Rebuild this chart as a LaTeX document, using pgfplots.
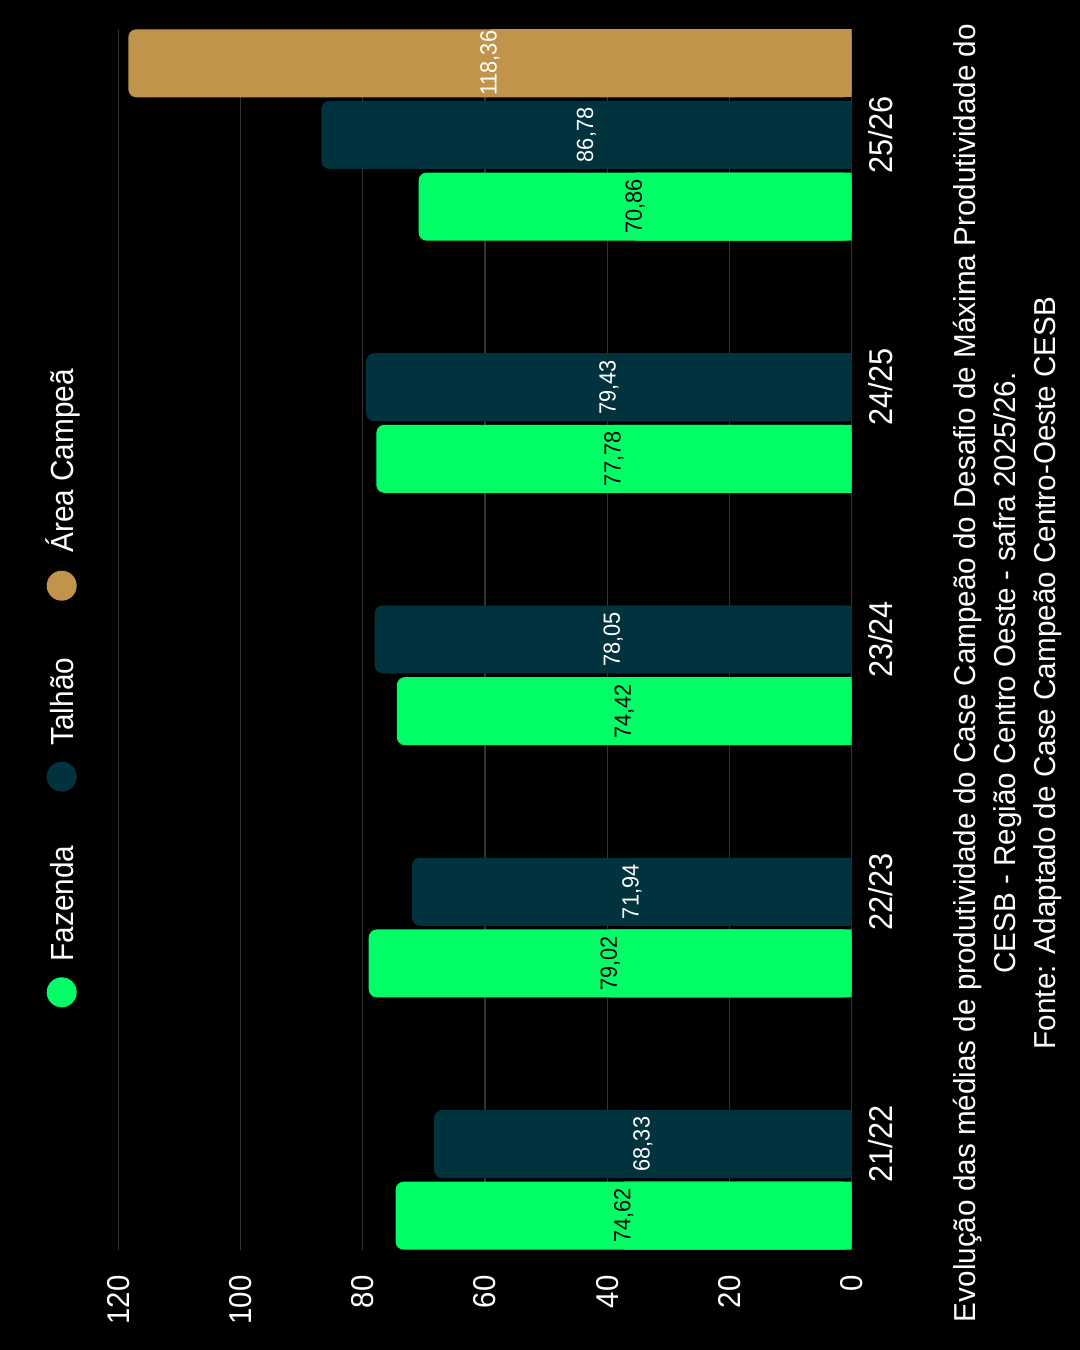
\documentclass[border=0pt]{standalone}
\usepackage{fontspec}
\setmainfont{Liberation Sans}
\newfontfamily\narfont{Liberation Sans}[FakeStretch=0.93]
\newfontfamily\capfont{Liberation Sans}[FakeStretch=0.978]
\usepackage{pgfplots}
\usepackage{pgfplotstable}
\pgfplotsset{compat=1.18}
\definecolor{fazg}{HTML}{00FF66}
\definecolor{talt}{HTML}{00333D}
\definecolor{areag}{HTML}{C0944A}
\definecolor{gridc}{HTML}{333333}
\pgfplotstableread{
y v lab
0 74.62 74,62
1 79.02 79,02
2 74.42 74,42
3 77.78 77,78
4 70.86 70,86
}\fazenda
\pgfplotstableread{
y v lab
0 68.33 68,33
1 71.94 71,94
2 78.05 78,05
3 79.43 79,43
4 86.78 86,78
}\talhao
\pgfplotstableread{
y v lab
4 118.36 118,36
}\area
\begin{document}
\begin{tikzpicture}
\fill[black] (0,0) rectangle (540pt,675pt);
\begin{axis}[
  at={(242.5pt,355.25pt)}, anchor=center,
  scale only axis, width=366.7pt, height=610.5pt,
  x dir=reverse, xmin=0, xmax=120, ymin=-0.42, ymax=4.42,
  xtick={0,20,...,120}, ytick={0,1,2,3,4},
  yticklabels={21/22,22/23,23/24,24/25,25/26},
  yticklabel pos=right,
  axis line style={draw=none}, major tick length=0pt,
  xmajorgrids, grid style={gridc, line width=0.6pt},
  /pgf/number format/assume math mode=true,
  xticklabel style={rotate=90, anchor=east, inner sep=0pt, font=\narfont\fontsize{15.8}{18}\selectfont, text=white},
  xticklabel shift=12.5pt,
  yticklabel style={rotate=90, anchor=north, inner sep=0pt, font=\narfont\fontsize{16.5}{19}\selectfont, text=white},
  yticklabel shift=8pt,
  bar width=0.2695,
]
\addplot[xbar, bar shift=-0.284, fill=fazg, draw=none, rounded corners=4pt] table[x=v,y=y]{\fazenda};
\addplot[xbar, bar shift=-0.284, fill=fazg, draw=none] table[x expr=\thisrow{v}/2,y=y]{\fazenda};
\addplot[xbar, bar shift=0, fill=talt, draw=none, rounded corners=4pt] table[x=v,y=y]{\talhao};
\addplot[xbar, bar shift=0, fill=talt, draw=none] table[x expr=\thisrow{v}/2,y=y]{\talhao};
\addplot[xbar, bar shift=0.284, fill=areag, draw=none, rounded corners=4pt] table[x=v,y=y]{\area};
\addplot[xbar, bar shift=0.284, fill=areag, draw=none] table[x expr=\thisrow{v}/2,y=y]{\area};
\addplot[draw=none, mark=none, nodes near coords, point meta=explicit symbolic,
  every node near coord/.append style={rotate=90, anchor=center, inner sep=0pt, font=\narfont\fontsize{11.7}{13}\selectfont, text=black}]
  table[x expr=\thisrow{v}/2, y expr=\thisrow{y}-0.284, meta=lab]{\fazenda};
\addplot[draw=none, mark=none, nodes near coords, point meta=explicit symbolic,
  every node near coord/.append style={rotate=90, anchor=center, inner sep=0pt, font=\narfont\fontsize{11.7}{13}\selectfont, text=white}]
  table[x expr=\thisrow{v}/2, y=y, meta=lab]{\talhao};
\addplot[draw=none, mark=none, nodes near coords, point meta=explicit symbolic,
  every node near coord/.append style={rotate=90, anchor=center, inner sep=0pt, font=\narfont\fontsize{11.7}{13}\selectfont, text=white}]
  table[x expr=\thisrow{v}/2, y expr=\thisrow{y}+0.284, meta=lab]{\area};
\end{axis}
% legend
\fill[fazg] (30.85pt,178.85pt) circle (7.5pt);
\fill[talt] (30.85pt,286.65pt) circle (7.5pt);
\fill[areag] (30.85pt,382.15pt) circle (7.5pt);
\node[rotate=90, anchor=base west, inner sep=0pt, text=white, font=\narfont\fontsize{16}{19}\selectfont] at (36.5pt,194pt) {Fazenda};
\node[rotate=90, anchor=base west, inner sep=0pt, text=white, font=\narfont\fontsize{16}{19}\selectfont] at (36.5pt,302pt) {Talhão};
\node[rotate=90, anchor=base west, inner sep=0pt, text=white, font=\narfont\fontsize{16}{19}\selectfont] at (36.5pt,398.5pt) {Área Campeã};
% caption
\node[rotate=90, anchor=base, inner sep=0pt, text=white, font=\capfont\fontsize{15.15}{18}\selectfont] at (487.5pt,338.5pt) {Evolução das médias de produtividade do Case Campeão do Desafio de Máxima Produtividade do};
\node[rotate=90, anchor=base, inner sep=0pt, text=white, font=\capfont\fontsize{15.15}{18}\selectfont] at (507.5pt,338.5pt) {CESB - Região Centro Oeste - safra 2025/26.};
\node[rotate=90, anchor=base, inner sep=0pt, text=white, font=\capfont\fontsize{15.15}{18}\selectfont] at (527.5pt,338.5pt) {Fonte: Adaptado de Case Campeão Centro-Oeste CESB};
\pgfresetboundingbox
\path[use as bounding box] (0,0) rectangle (540pt,675pt);
\end{tikzpicture}
\end{document}
